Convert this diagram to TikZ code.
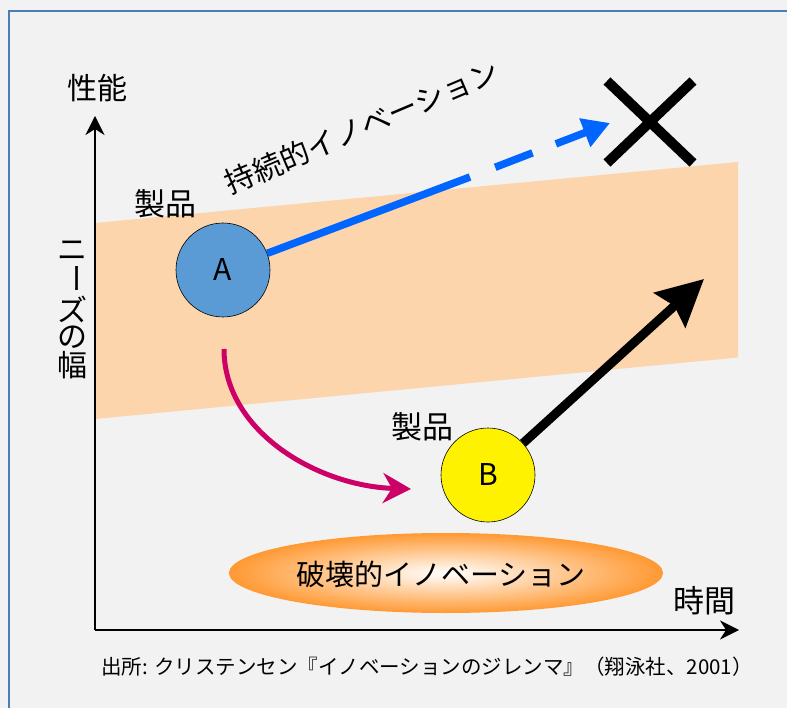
\documentclass[tikz,border=0pt]{standalone}
\usepackage{fontspec}
\usepackage{graphicx}
\setmainfont{Noto Sans CJK JP}
\usetikzlibrary{arrows.meta,shapes.geometric,shadings,calc}
\definecolor{bgc}{HTML}{F2F2F2}
\definecolor{framec}{HTML}{4A7EBB}
\definecolor{peach}{HTML}{FCD5AC}
\definecolor{circA}{HTML}{5B9BD5}
\definecolor{blueln}{HTML}{0066FF}
\definecolor{magen}{HTML}{CC0066}
\definecolor{orng}{HTML}{FF9933}
\newcommand{\fs}[1]{\fontsize{#1}{#1}\selectfont}
\tikzset{
  bubble/.style={circle, draw=black, line width=0.6pt, minimum size=94pt, inner sep=0pt, font=\fs{30}},
  lbl/.style={inner sep=0pt, font=\fs{29}},
  axis/.style={line width=1.8pt, -{Stealth[length=19pt,width=19pt,inset=6pt]}},
  blueline/.style={draw=blueln, line width=7.5pt},
}
\begin{document}
\begin{tikzpicture}[x=1pt,y=-1pt]
\useasboundingbox (0,0) rectangle (787,708);
\fill[bgc] (0,0) rectangle (787,708);
\draw[framec, line width=2.5pt] (9,800) -- (9,11) -- (900,11);

% peach band
\fill[peach] (95,223) -- (738,162) -- (738,357.5) -- (95,419) -- cycle;

% axes
\coordinate (O) at (95,630);
\coordinate (ytip) at (95,116);
\coordinate (xtip) at (739,630);
\draw[axis] (O) -- (ytip);
\draw[axis] (O) -- (xtip);

\node[lbl, font=\fs{30}] (perf) at (97,88) {性能};
\node[lbl, font=\fs{31}] (time) at (704,601) {時間};
\node[inner sep=0pt, font=\fs{30}, align=center] (needs) at (72,310)
  {\shortstack{ニ\\[0pt]\rotatebox[origin=c]{-90}{ー}\\[0pt]ズ\\[0pt]の\\[0pt]幅}};

% destructive ellipse
\node[ellipse, minimum width=434pt, minimum height=80pt, inner sep=0pt,
      inner color=white, outer color=orng] (dest) at (446,573) {};
\node[lbl, font=\fs{29}] (destt) at (441,574) {破壊的イノベーション};

% products
\node[bubble, fill=circA] (A) at (223,270) {A};
\node[bubble, fill=yellow] (B) at (488,475) {B};
\node[lbl, font=\fs{31}] (pA) at (165,204) {製品};
\node[lbl, font=\fs{31}] (pB) at (422,427) {製品};

% sustaining innovation
\coordinate (s1) at (470,177);
\coordinate (btip) at (610,123);
\draw[blueline] (A) -- (s1);
\draw[blueline, dash pattern=on 0pt off 27pt on 40pt off 25pt on 200pt,
      -{Triangle[length=27pt,width=29pt]}] (s1) -- (btip);
\node[lbl, rotate=23, font=\fs{29.5}] (sust) at (362,127) {持続的イノベーション};

% X mark
\coordinate (xc) at (650,122);
\draw[line width=10pt] ($(xc)+(-43,-41)$) -- ($(xc)+(43,41)$);
\draw[line width=10pt] ($(xc)+(43,-41)$) -- ($(xc)+(-43,41)$);

% black arrow
\coordinate (ktip) at (704,279);
\draw[line width=9pt, -{Stealth[length=46pt,width=46pt,inset=6pt]}] (B) -- (ktip);

% magenta curve
\coordinate (m0) at (224,349);
\coordinate (m1) at (411,489);
\draw[magen, line width=5pt, -{Stealth[length=28pt,width=30pt,inset=9pt]}]
  (m0) .. controls (224,432) and (318,486) .. (m1);

% source
\node[inner sep=0pt, font=\fs{20.5}] (src) at (427,667)
  {出所: クリステンセン『イノベーションのジレンマ』（翔泳社、2001）};
\end{tikzpicture}
\end{document}
